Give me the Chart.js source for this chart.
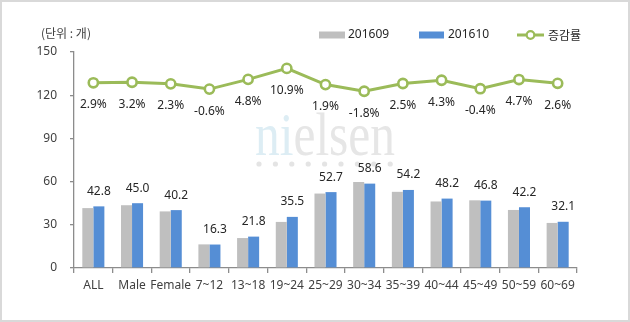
<!DOCTYPE html>
<html>
<head>
<meta charset="utf-8">
<script src="https://cdn.jsdelivr.net/npm/chart.js@4"></script>
<style>
html,body{margin:0;padding:0;background:#fff;}
canvas{display:block;}
</style>
</head>
<body>
<canvas id="c" width="630" height="322"></canvas>
<script>
const categories = ['ALL','Male','Female','7~12','13~18','19~24','25~29','30~34','35~39','40~44','45~49','50~59','60~69'];
const sep2016 = [41.6, 43.6, 39.3, 16.4, 20.8, 32.0, 51.7, 59.7, 52.9, 46.2, 47.0, 40.3, 31.3];
const oct2016 = [42.8, 45.0, 40.2, 16.3, 21.8, 35.5, 52.7, 58.6, 54.2, 48.2, 46.8, 42.2, 32.1];
const changeRate = [2.9, 3.2, 2.3, -0.6, 4.8, 10.9, 1.9, -1.8, 2.5, 4.3, -0.4, 4.7, 2.6];
const seriesNames = ['201609', '201610', '증감률'];
const yTicks = [0, 30, 60, 90, 120, 150];
const unitLabel = '(단위 : 개)';
const watermark = 'nielsen';

const FONT = "'Noto Sans', 'Noto Sans CJK KR', sans-serif";
const KFONT = "'Noto Sans CJK KR', 'Noto Sans', sans-serif";
const GRAY = '#BFBFBF', BLUE = '#558ED5', GREEN = '#9BBB59';
const AXIS = '#8C8C8C', TXT = '#404040';

const decor = {
  id: 'decor',
  beforeDraw(chart) {
    const ctx = chart.ctx;
    ctx.save();
    ctx.fillStyle = '#fff';
    ctx.fillRect(0, 0, chart.width, chart.height);
    ctx.restore();
  },
  beforeDatasetsDraw(chart) {
    const ctx = chart.ctx;
    ctx.save();
    ctx.font = "56px 'Liberation Serif', serif";
    ctx.textBaseline = 'alphabetic';
    const w = ctx.measureText(watermark).width;
    const sx = 140 / w;
    ctx.translate(255, 155);
    ctx.scale(sx, 1.1);
    ctx.fillStyle = '#DDEDF4';
    ctx.fillText(watermark.slice(0, 2), 0, 0);
    const w2 = ctx.measureText(watermark.slice(0, 2)).width;
    ctx.fillStyle = '#E6E6E6';
    ctx.fillText(watermark.slice(2), w2, 0);
    ctx.restore();
    ctx.save();
    ctx.fillStyle = '#E4E4E4';
    for (let i = 0; i < 9; i++) {
      ctx.beginPath();
      ctx.arc(259 + i * 16.4, 164, 2.6, 0, Math.PI * 2);
      ctx.fill();
    }
    ctx.restore();
  },
  afterDatasetsDraw(chart) {
    const ctx = chart.ctx;
    ctx.save();
    ctx.font = '12px ' + FONT;
    ctx.fillStyle = '#262626';
    ctx.textAlign = 'center';
    ctx.textBaseline = 'middle';
    const barMeta = chart.getDatasetMeta(2);
    barMeta.data.forEach((el, i) => {
      ctx.fillText(oct2016[i].toFixed(1), el.x, el.y - 15);
    });
    const lineMeta = chart.getDatasetMeta(0);
    lineMeta.data.forEach((el, i) => {
      ctx.fillText(changeRate[i].toFixed(1) + '%', el.x, el.y + 22);
    });
    ctx.restore();
  },
  afterDraw(chart) {
    const ctx = chart.ctx;
    ctx.save();
    ctx.font = '12px ' + KFONT;
    ctx.fillStyle = TXT;
    ctx.textBaseline = 'middle';
    ctx.textAlign = 'left';
    ctx.fillText(unitLabel, 41, 33);
    const ly = 35;
    ctx.font = '12px ' + FONT;
    ctx.fillStyle = GRAY;
    ctx.fillRect(319, ly - 3.5, 26, 7);
    ctx.fillStyle = '#262626';
    ctx.fillText(seriesNames[0], 348, ly);
    ctx.fillStyle = BLUE;
    ctx.fillRect(419, ly - 3.5, 25, 7);
    ctx.fillStyle = '#262626';
    ctx.fillText(seriesNames[1], 448, ly);
    ctx.strokeStyle = GREEN;
    ctx.lineWidth = 3;
    ctx.beginPath();
    ctx.moveTo(517, ly); ctx.lineTo(544, ly);
    ctx.stroke();
    ctx.beginPath();
    ctx.arc(530.5, ly, 3.8, 0, Math.PI * 2);
    ctx.fillStyle = '#fff';
    ctx.fill();
    ctx.lineWidth = 2.2;
    ctx.stroke();
    ctx.font = '12px ' + KFONT;
    ctx.fillStyle = '#262626';
    ctx.fillText(seriesNames[2], 548, ly);
    ctx.strokeStyle = '#D9D9D9';
    ctx.lineWidth = 2;
    ctx.strokeRect(1, 1, chart.width - 2, chart.height - 2);
    ctx.restore();
  }
};

new Chart(document.getElementById('c'), {
  data: {
    labels: categories,
    datasets: [
      {
        type: 'line', label: seriesNames[2], data: changeRate, yAxisID: 'y1', order: 0,
        borderColor: GREEN, borderWidth: 3, backgroundColor: '#fff',
        pointRadius: 4.6, pointBorderWidth: 2.6, pointBackgroundColor: '#fff', pointBorderColor: GREEN,
        tension: 0
      },
      {
        type: 'bar', label: seriesNames[0], data: sep2016, yAxisID: 'y', order: 1,
        backgroundColor: GRAY, barPercentage: 1, categoryPercentage: 0.57
      },
      {
        type: 'bar', label: seriesNames[1], data: oct2016, yAxisID: 'y', order: 2,
        backgroundColor: BLUE, barPercentage: 1, categoryPercentage: 0.57
      }
    ]
  },
  options: {
    responsive: false,
    animation: false,
    devicePixelRatio: 1,
    layout: { padding: { top: 52, right: 53, bottom: 24, left: 0 } },
    plugins: { legend: { display: false }, tooltip: { enabled: false } },
    scales: {
      x: {
        offset: true,
        grid: { display: true, drawOnChartArea: false, offset: true, tickLength: 5, color: AXIS, lineWidth: 1.3 },
        border: { color: AXIS, width: 1.3 },
        ticks: { color: TXT, font: { family: FONT, size: 12 }, padding: 5, maxRotation: 0, minRotation: 0, autoSkip: false },
        afterFit(s) { s.height = 30; }
      },
      y: {
        position: 'left', min: 0, max: 150,
        afterBuildTicks(s) { s.ticks = yTicks.map(v => ({ value: v })); },
        grid: { display: true, drawOnChartArea: false, tickLength: 4, color: AXIS, lineWidth: 1.3 },
        border: { color: AXIS, width: 1.3 },
        ticks: { color: TXT, font: { family: FONT, size: 12 }, padding: 13 },
        afterFit(s) { s.width = 74; }
      },
      y1: { display: false, min: -100, max: 20 }
    }
  },
  plugins: [decor]
});
</script>
</body>
</html>
